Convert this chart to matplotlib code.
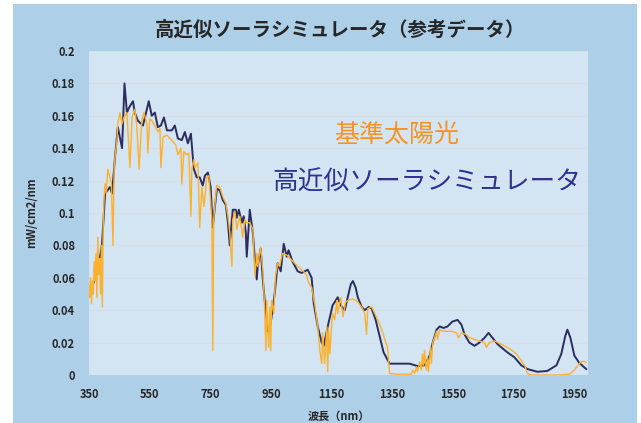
import numpy as np
import matplotlib.pyplot as plt
from matplotlib.patches import Rectangle

plt.rcParams['font.family'] = ['Noto Sans CJK JP', 'DejaVu Sans']

# ========= データ =========
# 高近似ソーラシミュレータ（滑らかな線）
SIM_WL = [350, 380, 393, 403, 419, 426, 436, 445, 459, 467, 475, 482, 495, 501, 511, 528,
          547, 557, 567, 577, 587, 597, 607, 623, 633, 643, 656, 666, 676, 686, 692, 696,
          705, 715, 725, 732, 742, 751, 758, 765, 772, 781, 791, 801, 808, 814, 821, 824,
          834, 837, 844, 854, 860, 867, 870, 880, 890, 897, 903, 906, 916, 923, 933, 939,
          949, 962, 972, 982, 992, 1002, 1008, 1021, 1038, 1051, 1061, 1071, 1084, 1091,
          1104, 1117, 1124, 1137, 1153, 1170, 1180, 1193, 1203, 1213, 1220, 1229, 1236,
          1249, 1259, 1272, 1282, 1295, 1308, 1321, 1341, 1374, 1407, 1433, 1456, 1473,
          1483, 1496, 1506, 1519, 1532, 1548, 1565, 1578, 1588, 1604, 1621, 1637, 1654,
          1667, 1680, 1697, 1710, 1729, 1752, 1775, 1795, 1828, 1861, 1891, 1907, 1920,
          1927, 1937, 1950, 1966, 1989]
SIM_VAL = [0.049, 0.065, 0.081, 0.112, 0.116, 0.112, 0.135, 0.153, 0.140, 0.180, 0.162,
           0.165, 0.169, 0.162, 0.157, 0.154, 0.169, 0.160, 0.162, 0.153, 0.154, 0.159,
           0.151, 0.151, 0.154, 0.146, 0.145, 0.150, 0.143, 0.149, 0.135, 0.127, 0.122,
           0.122, 0.117, 0.123, 0.125, 0.116, 0.091, 0.104, 0.115, 0.114, 0.108, 0.105,
           0.094, 0.080, 0.096, 0.102, 0.102, 0.097, 0.102, 0.094, 0.098, 0.088, 0.073,
           0.102, 0.088, 0.071, 0.059, 0.067, 0.078, 0.059, 0.038, 0.027, 0.032, 0.050,
           0.069, 0.064, 0.081, 0.073, 0.077, 0.070, 0.064, 0.063, 0.064, 0.065, 0.060,
           0.044, 0.030, 0.020, 0.018, 0.030, 0.043, 0.048, 0.043, 0.040, 0.048, 0.056,
           0.058, 0.054, 0.048, 0.042, 0.040, 0.042, 0.041, 0.034, 0.024, 0.014, 0.007,
           0.007, 0.007, 0.0055, 0.006, 0.012, 0.020, 0.028, 0.030, 0.029, 0.030, 0.033,
           0.034, 0.031, 0.025, 0.020, 0.018, 0.020, 0.023, 0.026, 0.023, 0.019, 0.017,
           0.014, 0.011, 0.006, 0.0037, 0.002, 0.0025, 0.006, 0.013, 0.024, 0.028, 0.023,
           0.012, 0.0075, 0.0037]

# 基準太陽光（ギザギザの線）
SUN_WL = [350, 352, 355, 358, 361, 364, 367, 370, 373, 376, 379, 382, 385, 388, 391, 394,
          397, 400, 403, 407, 412, 419, 424, 429, 433, 436, 442, 445, 452, 459, 465, 475,
          485, 492, 501, 508, 515, 524, 531, 541, 544, 550, 557, 567, 577, 584, 587, 594,
          607, 617, 627, 636, 643, 653, 656, 663, 672, 679, 686, 689, 696, 699, 709, 715,
          722, 729, 738, 745, 755, 758, 761, 771, 781, 791, 801, 808, 814, 821, 824, 831,
          837, 847, 857, 864, 870, 880, 890, 897, 903, 906, 916, 923, 929, 933, 936, 942,
          946, 949, 952, 959, 965, 972, 978, 988, 1002, 1018, 1038, 1051, 1067, 1074, 1084,
          1094, 1104, 1111, 1117, 1120, 1127, 1134, 1137, 1140, 1144, 1150, 1153, 1160,
          1167, 1170, 1180, 1187, 1196, 1203, 1220, 1236, 1249, 1259, 1265, 1269, 1282,
          1292, 1302, 1315, 1325, 1334, 1341, 1360, 1390, 1413, 1417, 1423, 1430, 1433,
          1440, 1446, 1449, 1453, 1456, 1462, 1466, 1469, 1476, 1479, 1483, 1489, 1496,
          1499, 1506, 1516, 1529, 1545, 1562, 1568, 1578, 1594, 1604, 1621, 1637, 1654,
          1660, 1670, 1687, 1710, 1729, 1746, 1759, 1775, 1786, 1795, 1808, 1850, 1900,
          1933, 1950, 1966, 1976, 1989]
SUN_VAL = [0.055, 0.048, 0.060, 0.044, 0.058, 0.050, 0.070, 0.058, 0.075, 0.048, 0.085,
           0.062, 0.072, 0.050, 0.080, 0.042, 0.095, 0.110, 0.118, 0.112, 0.127, 0.122,
           0.118, 0.080, 0.128, 0.135, 0.145, 0.155, 0.162, 0.155, 0.159, 0.162, 0.128,
           0.159, 0.164, 0.153, 0.127, 0.157, 0.162, 0.155, 0.137, 0.158, 0.157, 0.154,
           0.150, 0.152, 0.128, 0.147, 0.148, 0.146, 0.144, 0.142, 0.136, 0.140, 0.118,
           0.138, 0.136, 0.137, 0.098, 0.127, 0.133, 0.128, 0.131, 0.091, 0.116, 0.104,
           0.122, 0.123, 0.096, 0.015, 0.096, 0.117, 0.116, 0.110, 0.106, 0.098, 0.088,
           0.067, 0.096, 0.101, 0.090, 0.098, 0.085, 0.096, 0.094, 0.094, 0.090, 0.061,
           0.075, 0.067, 0.079, 0.065, 0.042, 0.015, 0.046, 0.017, 0.042, 0.015, 0.046,
           0.038, 0.061, 0.069, 0.067, 0.075, 0.074, 0.071, 0.067, 0.065, 0.062, 0.057,
           0.054, 0.044, 0.030, 0.015, 0.007, 0.026, 0.007, 0.030, 0.002, 0.028, 0.013,
           0.032, 0.038, 0.034, 0.046, 0.038, 0.048, 0.036, 0.045, 0.046, 0.047, 0.045,
           0.042, 0.038, 0.025, 0.041, 0.042, 0.038, 0.034, 0.028, 0.022, 0.017, 0.001,
           0.0005, 0.0005, 0.0005, 0.003, 0.001, 0.005, 0.002, 0.008, 0.003, 0.013, 0.006,
           0.015, 0.003, 0.011, 0.002, 0.017, 0.007, 0.020, 0.023, 0.027, 0.022, 0.028,
           0.027, 0.027, 0.027, 0.026, 0.023, 0.026, 0.025, 0.023, 0.022, 0.021, 0.020,
           0.017, 0.020, 0.021, 0.019, 0.017, 0.015, 0.013, 0.009, 0.006, 0.001, 0.0,
           0.0, 0.0, 0.0005, 0.003, 0.007, 0.0085, 0.008]

X_TICKS = [350, 550, 750, 950, 1150, 1350, 1550, 1750, 1950]
Y_TICKS = [0, 0.02, 0.04, 0.06, 0.08, 0.1, 0.12, 0.14, 0.16, 0.18, 0.2]
Y_LABELS = ["0", "0.02", "0.04", "0.06", "0.08", "0.1", "0.12", "0.14", "0.16", "0.18", "0.2"]

NAVY = "#2c2d5e"
ORANGE = "#fbb12e"
OUTER_BG = "#aecfe8"
PLOT_BG = "#d3e5f3"

# ========== 描画 ==========
fig = plt.figure(figsize=(6.41, 4.23), dpi=100)
fig.patches.append(Rectangle((13 / 641, 0), (637 - 13) / 641, 419 / 423,
                             transform=fig.transFigure, facecolor=OUTER_BG,
                             edgecolor="none", zorder=-10))

ax = fig.add_axes([89 / 641, 48 / 423, (588 - 89) / 641, (375 - 51) / 423])
ax.set_facecolor(PLOT_BG)
for s in ax.spines.values():
    s.set_visible(False)

ax.plot(SIM_WL, SIM_VAL, color=NAVY, lw=1.4, zorder=3)
ax.plot(SUN_WL, SUN_VAL, color=ORANGE, lw=1.0, zorder=4)

ax.set_xlim(350, 1995)
ax.set_ylim(0, 0.2)
ax.set_xticks(X_TICKS)
ax.set_yticks(Y_TICKS)
ax.set_yticklabels(Y_LABELS)
ax.grid(axis="y", color="#dcdde2", lw=0.8)
ax.set_axisbelow(True)
ax.tick_params(length=0, labelsize=8, colors="#262626", pad=10)
for lab in ax.get_xticklabels() + ax.get_yticklabels():
    lab.set_fontweight("bold")
ax.tick_params(axis="x", pad=9)

ax.set_ylabel("mW/cm2/nm", fontsize=8, fontweight="bold", color="#262626", labelpad=10)
ax.set_xlabel("波長（nm）", fontsize=8, fontweight="bold", color="#262626", labelpad=7)

fig.text(340 / 641, 1 - 30 / 423, "高近似ソーラシミュレータ（参考データ）",
         ha="center", va="center", fontsize=14, fontweight="bold", color="#262626")

fig.text(397 / 641, 1 - 135 / 423, "基準太陽光", ha="center", va="center",
         fontsize=18, color="#f7931e")
fig.text(427 / 641, 1 - 183 / 423, "高近似ソーラシミュレータ", ha="center", va="center",
         fontsize=18.5, color="#2e3192")

fig.savefig("out.png", dpi=100)
